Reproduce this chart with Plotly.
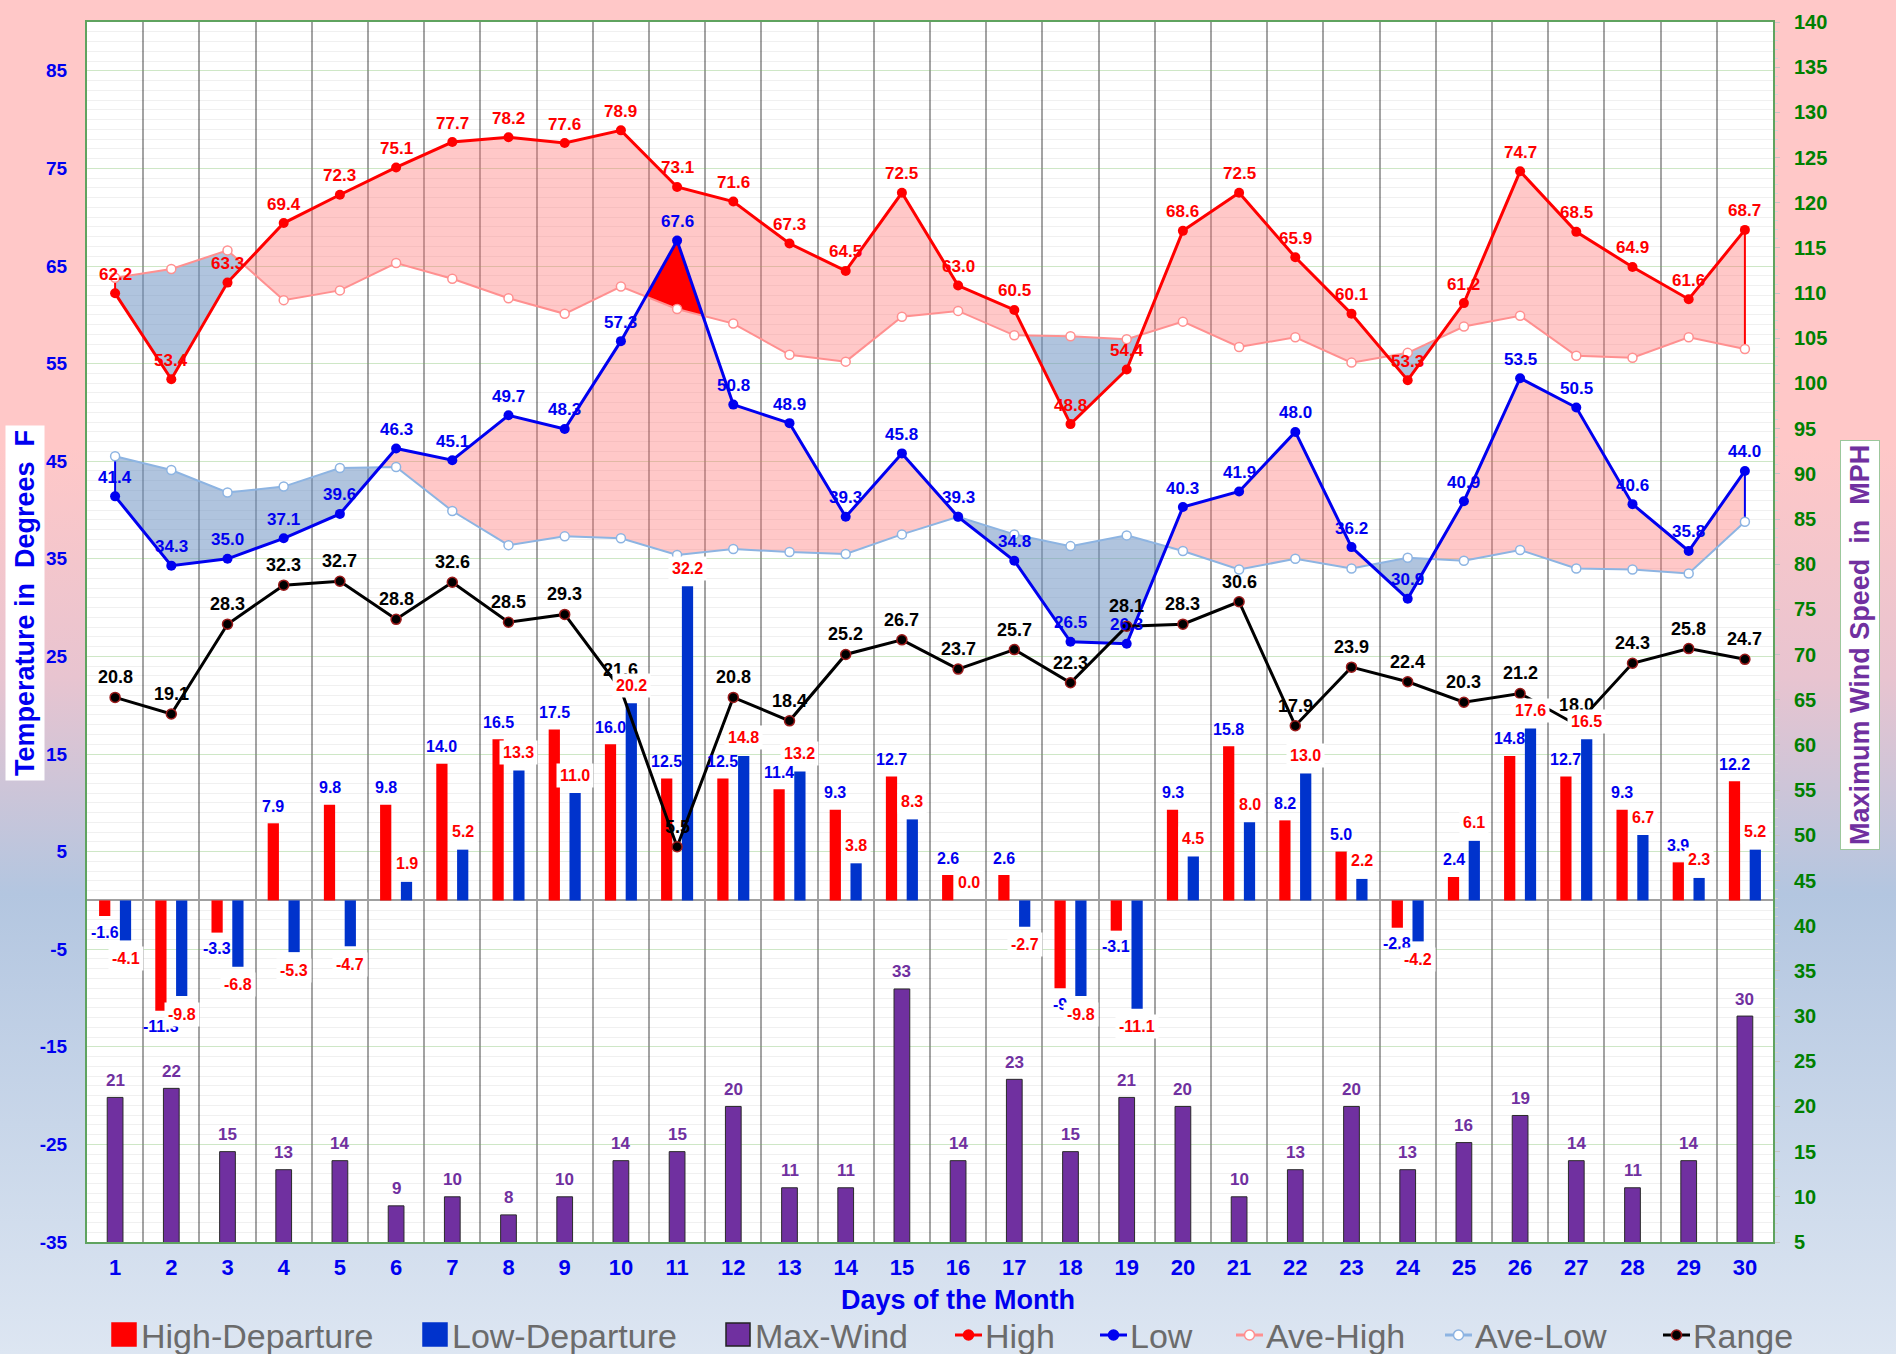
import base64
import plotly.graph_objects as go

# ---------------- data ----------------
days = list(range(1, 31))
high = [62.2, 53.4, 63.3, 69.4, 72.3, 75.1, 77.7, 78.2, 77.6, 78.9, 73.1, 71.6, 67.3, 64.5, 72.5,
        63.0, 60.5, 48.8, 54.4, 68.6, 72.5, 65.9, 60.1, 53.3, 61.2, 74.7, 68.5, 64.9, 61.6, 68.7]
low = [41.4, 34.3, 35.0, 37.1, 39.6, 46.3, 45.1, 49.7, 48.3, 57.3, 67.6, 50.8, 48.9, 39.3, 45.8,
       39.3, 34.8, 26.5, 26.3, 40.3, 41.9, 48.0, 36.2, 30.9, 40.9, 53.5, 50.5, 40.6, 35.8, 44.0]
ave_high = [63.8, 64.7, 66.6, 61.5, 62.5, 65.3, 63.7, 61.7, 60.1, 62.9, 60.6, 59.1, 55.9, 55.2, 59.8,
            60.4, 57.9, 57.8, 57.5, 59.3, 56.7, 57.7, 55.1, 56.1, 58.8, 59.9, 55.8, 55.6, 57.7, 56.5]
ave_low = [45.5, 44.1, 41.8, 42.4, 44.3, 44.4, 39.9, 36.4, 37.3, 37.1, 35.4, 36.0, 35.7, 35.5, 37.5,
           39.3, 37.5, 36.3, 37.4, 35.8, 33.9, 35.0, 34.0, 35.1, 34.8, 35.9, 34.0, 33.9, 33.5, 38.8]
temp_range = [20.8, 19.1, 28.3, 32.3, 32.7, 28.8, 32.6, 28.5, 29.3, 21.6, 5.5, 20.8, 18.4, 25.2, 26.7,
              23.7, 25.7, 22.3, 28.1, 28.3, 30.6, 17.9, 23.9, 22.4, 20.3, 21.2, 18.0, 24.3, 25.8, 24.7]
high_dep = [-1.6, -11.3, -3.3, 7.9, 9.8, 9.8, 14.0, 16.5, 17.5, 16.0, 12.5, 12.5, 11.4, 9.3, 12.7,
            2.6, 2.6, -9, -3.1, 9.3, 15.8, 8.2, 5.0, -2.8, 2.4, 14.8, 12.7, 9.3, 3.9, 12.2]
low_dep = [-4.1, -9.8, -6.8, -5.3, -4.7, 1.9, 5.2, 13.3, 11.0, 20.2, 32.2, 14.8, 13.2, 3.8, 8.3,
           0.0, -2.7, -9.8, -11.1, 4.5, 8.0, 13.0, 2.2, -4.2, 6.1, 17.6, 16.5, 6.7, 2.3, 5.2]
max_wind = [21, 22, 15, 13, 14, 9, 10, 8, 10, 14, 15, 20, 11, 11, 33,
            14, 23, 15, 21, 20, 10, 13, 20, 13, 16, 19, 14, 11, 14, 30]
day_labels = [str(d) for d in days]
temp_ticks = [-35, -25, -15, -5, 5, 15, 25, 35, 45, 55, 65, 75, 85]
temp_tick_labels = [str(t) for t in temp_ticks]

# ---------------- style ----------------
W, H = 1896, 1354
ML, MR, MT, MB = 87, 123, 22, 112
PW, PH = W - ML - MR, H - MT - MB
FONT = "Liberation Sans, Arial, sans-serif"
RED = "#FF0000"
BLUE = "#0000F0"
BAR_BLUE = "#0033CC"
PURPLE = "#7030A0"
GREEN = "#008000"
AVEH = "#FF9090"
AVEL = "#8DB4E2"
PINK_FILL = "rgba(255,110,110,0.38)"
BLUE_FILL = "rgba(111,148,195,0.55)"
DEP_W = 0.2
RED_C = -0.185
BLUE_C = 0.185
WIND_W = 0.28


def px(xp):
    return (xp - ML) / PW


def py(yp):
    return 1 - (yp - MT) / PH


def sgn(v):
    return (v > 0) - (v < 0)


def fill_regions(x, a, b):
    polys = {1: [], -1: []}
    s = 0
    for i in range(len(x)):
        if sgn(a[i] - b[i]) != 0:
            s = sgn(a[i] - b[i])
            break
    top = [(x[0], a[0])]
    bot = [(x[0], b[0])]
    for i in range(len(x) - 1):
        d0 = a[i] - b[i]
        d1 = a[i + 1] - b[i + 1]
        s1 = sgn(d1)
        if s1 != 0 and s1 != s:
            if d0 == 0:
                polys[s].append(top + bot[::-1])
                top = [(x[i], a[i])]
                bot = [(x[i], b[i])]
            else:
                t = d0 / (d0 - d1)
                xc = x[i] + t * (x[i + 1] - x[i])
                yc = a[i] + t * (a[i + 1] - a[i])
                top.append((xc, yc))
                bot.append((xc, yc))
                polys[s].append(top + bot[::-1])
                top = [(xc, yc)]
                bot = [(xc, yc)]
            s = s1
        top.append((x[i + 1], a[i + 1]))
        bot.append((x[i + 1], b[i + 1]))
    polys[s].append(top + bot[::-1])
    return polys


def poly_xy(polys):
    xs, ys = [], []
    for p in polys:
        for (u, v) in p:
            xs.append(u)
            ys.append(v)
        xs.append(p[0][0])
        ys.append(p[0][1])
        xs.append(None)
        ys.append(None)
    return xs, ys


fig = go.Figure()

# ---------------- bars ----------------
fig.add_trace(go.Bar(x=days, y=high_dep, width=DEP_W, offset=RED_C - DEP_W / 2,
                     marker=dict(color=RED, line=dict(width=0)), name="High-Departure",
                     showlegend=False, yaxis="y"))
fig.add_trace(go.Bar(x=days, y=low_dep, width=DEP_W, offset=BLUE_C - DEP_W / 2,
                     marker=dict(color=BAR_BLUE, line=dict(width=0)), name="Low-Departure",
                     showlegend=False, yaxis="y"))
fig.add_trace(go.Bar(x=days, y=max_wind, width=WIND_W, offset=-WIND_W / 2,
                     marker=dict(color=PURPLE, line=dict(width=1, color="#2A2A2A")),
                     name="Max-Wind", showlegend=False, yaxis="y2"))

# ---------------- fills ----------------
hp = fill_regions(days, high, ave_high)
lp = fill_regions(days, low, ave_low)
ov = fill_regions(days, low, ave_high)
for polys, col in [(hp[1], PINK_FILL), (hp[-1], BLUE_FILL), (lp[1], PINK_FILL), (lp[-1], BLUE_FILL),
                   (ov[1], "#FF0000")]:
    if not polys:
        continue
    xs, ys = poly_xy(polys)
    fig.add_trace(go.Scatter(x=xs, y=ys, mode="lines", fill="toself", fillcolor=col,
                             line=dict(width=0, color="rgba(0,0,0,0)"), hoverinfo="skip",
                             showlegend=False))

# end edges of filled areas
fig.add_trace(go.Scatter(x=[days[0], days[0], None, days[-1], days[-1]],
                         y=[high[0], ave_high[0], None, high[-1], ave_high[-1]],
                         mode="lines", line=dict(color=RED, width=2), showlegend=False,
                         hoverinfo="skip"))
fig.add_trace(go.Scatter(x=[days[0], days[0], None, days[-1], days[-1]],
                         y=[low[0], ave_low[0], None, low[-1], ave_low[-1]],
                         mode="lines", line=dict(color=BLUE, width=2), showlegend=False,
                         hoverinfo="skip"))

# ---------------- lines ----------------
fig.add_trace(go.Scatter(x=days, y=ave_high, mode="lines+markers", name="Ave-High",
                         line=dict(color=AVEH, width=2),
                         marker=dict(size=9, color="white", line=dict(color=AVEH, width=1.5)),
                         showlegend=False))
fig.add_trace(go.Scatter(x=days, y=ave_low, mode="lines+markers", name="Ave-Low",
                         line=dict(color=AVEL, width=2),
                         marker=dict(size=9, color="white", line=dict(color=AVEL, width=1.5)),
                         showlegend=False))
fig.add_trace(go.Scatter(x=days, y=high, mode="lines+markers", name="High",
                         line=dict(color=RED, width=3), marker=dict(size=10, color=RED),
                         showlegend=False))
fig.add_trace(go.Scatter(x=days, y=low, mode="lines+markers", name="Low",
                         line=dict(color=BLUE, width=3), marker=dict(size=10, color=BLUE),
                         showlegend=False))
fig.add_trace(go.Scatter(x=days, y=temp_range, mode="lines+markers", name="Range",
                         line=dict(color="black", width=3),
                         marker=dict(size=10, color="black", line=dict(color="#9B1B1B", width=1.5)),
                         showlegend=False))

# ---------------- labels ----------------
ann = []
for i, d in enumerate(days):
    ann.append(dict(x=d, y=high[i], xref="x", yref="y", text="<b>%.1f</b>" % high[i],
                    showarrow=False, yshift=19, font=dict(size=17, color=RED, family=FONT)))
    ann.append(dict(x=d, y=low[i], xref="x", yref="y", text="<b>%.1f</b>" % low[i],
                    showarrow=False, yshift=19, font=dict(size=17, color=BLUE, family=FONT)))
    ann.append(dict(x=d, y=temp_range[i], xref="x", yref="y", text="<b>%.1f</b>" % temp_range[i],
                    showarrow=False, yshift=20, font=dict(size=18, color="black", family=FONT)))
    v = high_dep[i]
    ann.append(dict(x=d + RED_C, y=v, xref="x", yref="y", text="<b>%s</b>" % v,
                    showarrow=False, yshift=17 if v >= 0 else -16,
                    font=dict(size=16, color=BLUE, family=FONT)))
    v = low_dep[i]
    ann.append(dict(x=d + BLUE_C, y=v, xref="x", yref="y", text="<b>%s</b>" % v,
                    showarrow=False, yshift=18 if v >= 0 else -18, bgcolor="white", borderpad=3,
                    font=dict(size=16, color=RED, family=FONT)))
    ann.append(dict(x=d, y=max_wind[i], xref="x", yref="y2", text="<b>%d</b>" % max_wind[i],
                    showarrow=False, yshift=17, font=dict(size=17, color=PURPLE, family=FONT)))

# axis titles
ann.append(dict(x=px(25), y=py(603), xref="paper", yref="paper", xanchor="center", yanchor="middle",
                text="<b>Temperature in\u00a0\u00a0Degrees\u00a0\u00a0F</b>", textangle=-90,
                showarrow=False, bgcolor="white", borderpad=4,
                font=dict(size=27, color=BLUE, family=FONT)))
ann.append(dict(x=px(1860), y=py(645), xref="paper", yref="paper", xanchor="center", yanchor="middle",
                text="<b>Maximum Wind Speed\u00a0\u00a0in\u00a0\u00a0MPH</b>", textangle=-90,
                showarrow=False, bgcolor="white", borderpad=4, bordercolor="#9CC79C", borderwidth=1,
                font=dict(size=27, color=PURPLE, family=FONT)))
ann.append(dict(x=px(958), y=py(1300), xref="paper", yref="paper", xanchor="center", yanchor="middle",
                text="<b>Days of the Month</b>", showarrow=False,
                font=dict(size=27, color=BLUE, family=FONT)))

# ---------------- manual legend ----------------
shapes = []
legend_items = [
    ("High-Departure", "bar", RED, RED),
    ("Low-Departure", "bar", BAR_BLUE, BAR_BLUE),
    ("Max-Wind", "bar", PURPLE, "#222222"),
    ("High", "line", RED, RED),
    ("Low", "line", BLUE, BLUE),
    ("Ave-High", "line", AVEH, "white"),
    ("Ave-Low", "line", AVEL, "white"),
    ("Range", "line", "black", "black"),
]
legend_x = [112, 423, 726, 955, 1100, 1236, 1445, 1663]
LY = 1335
for (name, kind, col, fillc), x0 in zip(legend_items, legend_x):
    if kind == "bar":
        shapes.append(dict(type="rect", xref="paper", yref="paper", x0=px(x0), x1=px(x0 + 24),
                           y0=py(LY + 11), y1=py(LY - 12), fillcolor=col,
                           line=dict(color=fillc, width=1.5), layer="above"))
        tx = x0 + 27
    else:
        shapes.append(dict(type="line", xref="paper", yref="paper", x0=px(x0), x1=px(x0 + 27),
                           y0=py(LY), y1=py(LY), line=dict(color=col, width=3), layer="above"))
        edge = "#9B1B1B" if name == "Range" else col
        shapes.append(dict(type="circle", xref="paper", yref="paper", x0=px(x0 + 8.5),
                           x1=px(x0 + 18.5), y0=py(LY + 5), y1=py(LY - 5), fillcolor=fillc,
                           line=dict(color=edge, width=1.5), layer="above"))
        tx = x0 + 28
    ann.append(dict(x=px(tx), y=py(LY + 1), xref="paper", yref="paper", text=name,
                    xanchor="left", yanchor="middle", showarrow=False,
                    font=dict(size=34, color="#6B6B6B", family=FONT)))

# white plot area above the gradient
shapes.append(dict(type="rect", xref="x domain", yref="y domain", x0=0, x1=1, y0=0, y1=1,
                   fillcolor="white", line=dict(width=0), layer="below"))

# gradient background
svg = ('<svg xmlns="http://www.w3.org/2000/svg" width="%d" height="%d" viewBox="0 0 %d %d" '
       'preserveAspectRatio="none"><defs><linearGradient id="g" x1="0" y1="0" x2="0" y2="1">'
       '<stop offset="0" stop-color="#FFC8C8"/><stop offset="0.33" stop-color="#FFC8C8"/>'
       '<stop offset="0.50" stop-color="#E8C4D0"/><stop offset="0.66" stop-color="#B3C6E0"/>'
       '<stop offset="1" stop-color="#DDE6F2"/></linearGradient></defs>'
       '<rect x="0" y="0" width="%d" height="%d" fill="url(#g)"/></svg>') % (W, H, W, H, W, H)
src = "data:image/svg+xml;base64," + base64.b64encode(svg.encode()).decode()

fig.update_layout(
    template="none",
    width=W, height=H,
    margin=dict(l=ML, r=MR, t=MT, b=MB, autoexpand=False),
    paper_bgcolor="#DDE6F2",
    plot_bgcolor="white",
    barmode="overlay",
    showlegend=False,
    hovermode=False,
    annotations=ann,
    shapes=shapes,
    images=[dict(source=src, xref="paper", yref="paper", x=-ML / PW, y=1 + MT / PH,
                 sizex=W / PW, sizey=H / PH, xanchor="left", yanchor="top",
                 sizing="stretch", layer="below")],
    xaxis=dict(range=[0.5, 30.5], tickmode="array", tickvals=days, ticktext=day_labels,
               showgrid=False, zeroline=False, ticks="", automargin=False,
               tickfont=dict(size=22, color=BLUE, family=FONT, weight="bold"),
               ticklabelstandoff=5,
               showline=True, linecolor="#5FA35F", linewidth=2, mirror=True,
               minor=dict(tickmode="array", tickvals=[d + 0.5 for d in days[:-1]],
                          showgrid=True, gridcolor="#A3A3A3", gridwidth=1.6, ticks="")),
    yaxis=dict(range=[-35, 90], tickmode="array", tickvals=temp_ticks, ticktext=temp_tick_labels,
               automargin=False,
               showgrid=True, gridcolor="rgba(120,210,90,0.28)", gridwidth=1,
               zeroline=True, zerolinecolor="#A0A0A0", zerolinewidth=2, ticks="",
               tickfont=dict(size=19, color=BLUE, family=FONT, weight="bold"),
               ticklabelstandoff=14,
               showline=True, linecolor="#5FA35F", linewidth=2, mirror=True,
               minor=dict(tickmode="linear", tick0=-35, dtick=1, showgrid=True,
                          gridcolor="rgba(0,0,0,0.06)", gridwidth=1)),
    yaxis2=dict(range=[5, 140], tickmode="linear", tick0=5, dtick=5, overlaying="y", side="right",
                showgrid=False, zeroline=False, automargin=False,
                ticks="outside", ticklen=5, tickcolor="#C4C4C4",
                tickfont=dict(size=20, color=GREEN, family=FONT, weight="bold"),
                ticklabelstandoff=10,
                showline=True, linecolor="#5FA35F", linewidth=2,
                minor=dict(dtick=1, ticks="outside", ticklen=3, tickcolor="#D4D4D4")),
)

fig.write_html("out.html", config={"displayModeBar": False},
               post_script="document.body.style.margin='0px';")
